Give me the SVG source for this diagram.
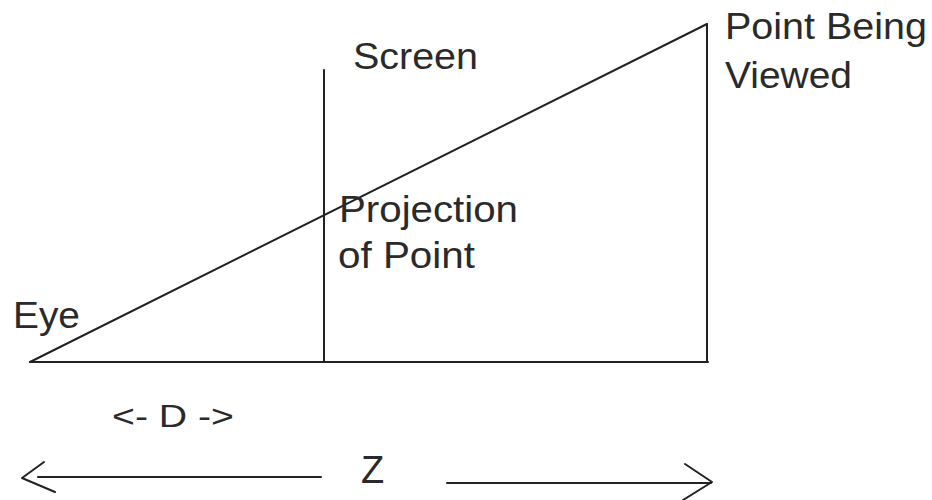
<svg xmlns="http://www.w3.org/2000/svg" width="932" height="500" viewBox="0 0 932 500">
<style>
.ln{stroke:#222;stroke-width:2;fill:none;stroke-linecap:round;stroke-linejoin:round}
.t{font-family:"Liberation Sans",Arial,sans-serif;font-size:37px;fill:#2a2a2a}
</style>
<rect width="932" height="500" fill="#fff"/>
<g id="connectors">
<line class="ln" x1="30" y1="362" x2="708" y2="362"/>
<line class="ln" x1="324" y1="70" x2="324" y2="362"/>
<line class="ln" x1="707" y1="24" x2="707" y2="362"/>
<line class="ln" x1="30" y1="362" x2="707" y2="24"/>
<line class="ln" x1="38" y1="477" x2="321" y2="477"/>
<polyline class="ln" points="44,462 22,478 55,492"/>
<line class="ln" x1="447" y1="483" x2="711" y2="483"/>
<polyline class="ln" points="685,464 712,482 683,500"/>
</g>
<g id="eye"><text class="t" x="13" y="328" textLength="67" lengthAdjust="spacingAndGlyphs">Eye</text></g>
<g id="screen"><text class="t" x="353" y="69" textLength="125" lengthAdjust="spacingAndGlyphs">Screen</text></g>
<g id="projection">
<text class="t" x="339" y="222" textLength="179" lengthAdjust="spacingAndGlyphs">Projection</text>
<text class="t" x="338" y="268" textLength="137" lengthAdjust="spacingAndGlyphs">of Point</text>
</g>
<g id="point">
<text class="t" x="725" y="39" textLength="202" lengthAdjust="spacingAndGlyphs">Point Being</text>
<text class="t" x="725" y="88" textLength="127" lengthAdjust="spacingAndGlyphs">Viewed</text>
</g>
<g id="d-label"><text class="t" x="112" y="427" style="font-size:32px" textLength="122" lengthAdjust="spacingAndGlyphs">&lt;- D -&gt;</text></g>
<g id="z-label"><text class="t" x="361" y="483" style="font-size:38px">Z</text></g>
</svg>
